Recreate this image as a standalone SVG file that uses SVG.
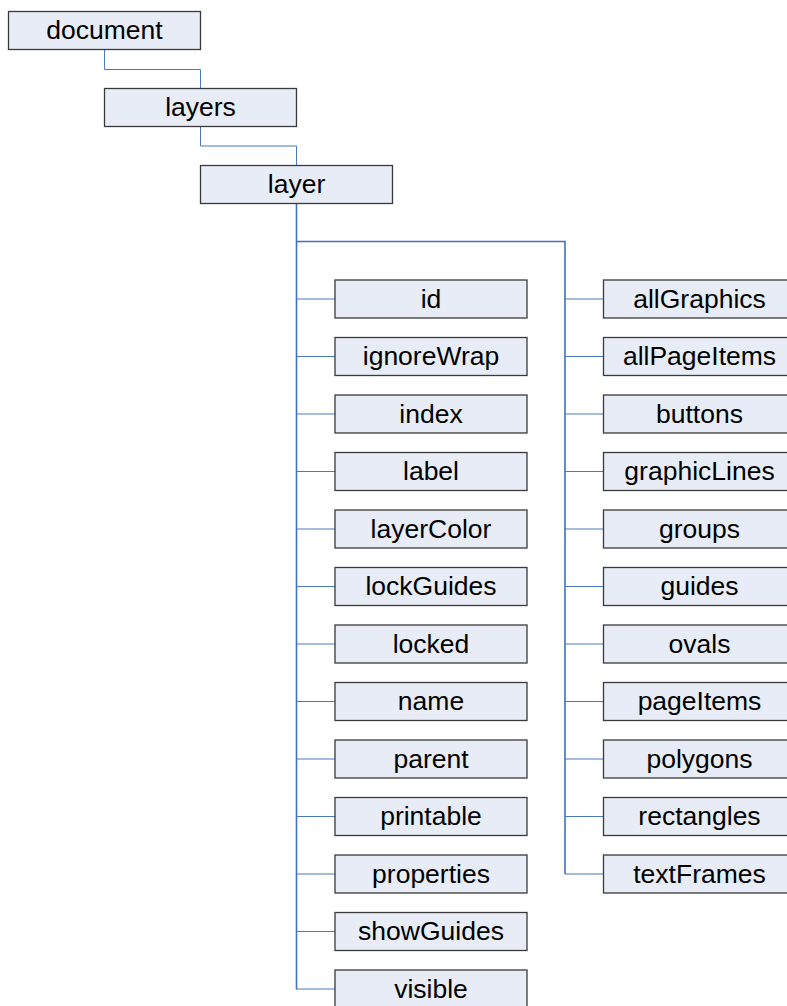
<svg xmlns="http://www.w3.org/2000/svg" width="787" height="1006" viewBox="0 0 787 1006">
<style>
.n rect{fill:#E7ECF6;stroke:#3a3a3a;stroke-width:1.3}
.n text{font-family:"Liberation Sans",Arial,sans-serif;font-size:26.5px;fill:#000;text-anchor:middle}
.c path{fill:none;stroke:#4A78C2;stroke-width:1}
.c path.m{stroke-width:1.6;stroke:#4470B8}
</style>
<rect width="787" height="1006" fill="#fff"/>
<g class="c">
<path d="M104.5 49.5V69.5H200.5V88"/>
<path d="M200.5 126.5V146H296.5V165"/>
<path class="m" d="M296.5 203.5V989.5M296.5 241.5H565V874"/>
<path d="M296.5 299H335M296.5 356.5H335M296.5 414H335M296.5 471.5H335M296.5 529H335M296.5 586.5H335M296.5 644H335M296.5 701.5H335M296.5 759H335M296.5 816.5H335M296.5 874H335M296.5 931.5H335M296.5 989H335"/>
<path d="M565 299H603.5M565 356.5H603.5M565 414H603.5M565 471.5H603.5M565 529H603.5M565 586.5H603.5M565 644H603.5M565 701.5H603.5M565 759H603.5M565 816.5H603.5M565 874H603.5"/>
</g>
<g class="n" id="document"><rect x="8.5" y="11.5" width="192" height="38"/><text x="104.5" y="39.2">document</text></g>
<g class="n" id="layers"><rect x="104.5" y="88.5" width="192" height="38"/><text x="200.5" y="116.2">layers</text></g>
<g class="n" id="layer"><rect x="200.5" y="165.5" width="192" height="38"/><text x="296.5" y="193.2">layer</text></g>
<g class="n" id="id"><rect x="335" y="280" width="192" height="38"/><text x="431" y="307.7">id</text></g>
<g class="n" id="ignoreWrap"><rect x="335" y="337.5" width="192" height="38"/><text x="431" y="365.2">ignoreWrap</text></g>
<g class="n" id="index"><rect x="335" y="395" width="192" height="38"/><text x="431" y="422.7">index</text></g>
<g class="n" id="label"><rect x="335" y="452.5" width="192" height="38"/><text x="431" y="480.2">label</text></g>
<g class="n" id="layerColor"><rect x="335" y="510" width="192" height="38"/><text x="431" y="537.7">layerColor</text></g>
<g class="n" id="lockGuides"><rect x="335" y="567.5" width="192" height="38"/><text x="431" y="595.2">lockGuides</text></g>
<g class="n" id="locked"><rect x="335" y="625" width="192" height="38"/><text x="431" y="652.7">locked</text></g>
<g class="n" id="name"><rect x="335" y="682.5" width="192" height="38"/><text x="431" y="710.2">name</text></g>
<g class="n" id="parent"><rect x="335" y="740" width="192" height="38"/><text x="431" y="767.7">parent</text></g>
<g class="n" id="printable"><rect x="335" y="797.5" width="192" height="38"/><text x="431" y="825.2">printable</text></g>
<g class="n" id="properties"><rect x="335" y="855" width="192" height="38"/><text x="431" y="882.7">properties</text></g>
<g class="n" id="showGuides"><rect x="335" y="912.5" width="192" height="38"/><text x="431" y="940.2">showGuides</text></g>
<g class="n" id="visible"><rect x="335" y="970" width="192" height="38"/><text x="431" y="997.7">visible</text></g>
<g class="n" id="allGraphics"><rect x="603.5" y="280" width="192" height="38"/><text x="699.5" y="307.7">allGraphics</text></g>
<g class="n" id="allPageItems"><rect x="603.5" y="337.5" width="192" height="38"/><text x="699.5" y="365.2">allPageItems</text></g>
<g class="n" id="buttons"><rect x="603.5" y="395" width="192" height="38"/><text x="699.5" y="422.7">buttons</text></g>
<g class="n" id="graphicLines"><rect x="603.5" y="452.5" width="192" height="38"/><text x="699.5" y="480.2">graphicLines</text></g>
<g class="n" id="groups"><rect x="603.5" y="510" width="192" height="38"/><text x="699.5" y="537.7">groups</text></g>
<g class="n" id="guides"><rect x="603.5" y="567.5" width="192" height="38"/><text x="699.5" y="595.2">guides</text></g>
<g class="n" id="ovals"><rect x="603.5" y="625" width="192" height="38"/><text x="699.5" y="652.7">ovals</text></g>
<g class="n" id="pageItems"><rect x="603.5" y="682.5" width="192" height="38"/><text x="699.5" y="710.2">pageItems</text></g>
<g class="n" id="polygons"><rect x="603.5" y="740" width="192" height="38"/><text x="699.5" y="767.7">polygons</text></g>
<g class="n" id="rectangles"><rect x="603.5" y="797.5" width="192" height="38"/><text x="699.5" y="825.2">rectangles</text></g>
<g class="n" id="textFrames"><rect x="603.5" y="855" width="192" height="38"/><text x="699.5" y="882.7">textFrames</text></g>
</svg>
